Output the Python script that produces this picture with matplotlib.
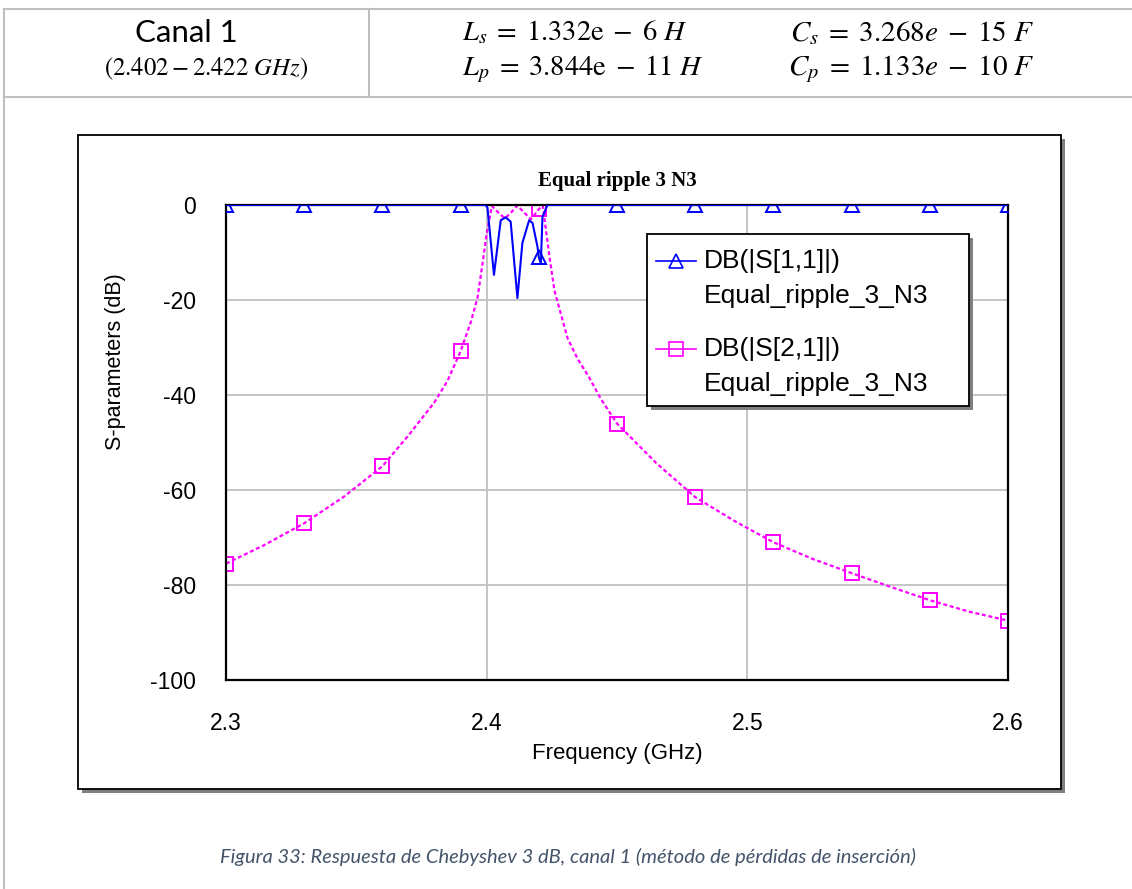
import matplotlib
matplotlib.use("Agg")
import matplotlib.pyplot as plt
from matplotlib.patches import Rectangle
from matplotlib.lines import Line2D
import numpy as np

# S21 (GHz, dB)
FREQ21 = [2.300, 2.315, 2.330, 2.345, 2.360, 2.370, 2.380, 2.385, 2.390, 2.394,
          2.3965, 2.3985, 2.400, 2.402, 2.4045, 2.407, 2.409, 2.4118, 2.414, 2.417,
          2.420, 2.4215, 2.424, 2.426, 2.4285, 2.431, 2.435, 2.439, 2.444, 2.450,
          2.465, 2.480, 2.495, 2.510, 2.525, 2.540, 2.555, 2.570, 2.585, 2.600]
S21 = [-75.5, -71.5, -67.0, -61.5, -55.0, -48.5, -41.5, -37.0, -30.8, -24.5,
       -19.5, -12.0, -6.0, -0.2, -1.6, -2.8, -1.8, -0.1, -1.4, -3.0,
       -0.9, -0.1, -10.5, -18.0, -23.0, -28.0, -32.5, -36.0, -41.0, -46.0,
       -54.3, -61.5, -66.5, -71.0, -74.5, -77.5, -80.4, -83.2, -85.6, -87.5]

# S11 (GHz, dB)
FREQ11 = [2.300, 2.330, 2.360, 2.390, 2.3995, 2.4003, 2.4028, 2.4054, 2.4073,
          2.4092, 2.4118, 2.4137, 2.4163, 2.4176, 2.4195, 2.420, 2.4208, 2.4214,
          2.4233, 2.450, 2.480, 2.510, 2.540, 2.570, 2.600]
S11 = [0, 0, 0, 0, 0, -0.5, -14.7, -3.2, -2.6,
       -3.5, -19.6, -8.0, -3.2, -3.8, -8.8, -11.0, -12.3, -2.5,
       0, 0, 0, 0, 0, 0, 0]

MARK_START, MARK_STEP = 2.30, 0.03
XTICKS = [2.3, 2.4, 2.5, 2.6]
YTICKS = [0, -20, -40, -60, -80, -100]

TITLE = "Equal ripple 3 N3"
LABELS = ["DB(|S[1,1]|)", "DB(|S[2,1]|)"]
SOURCE = "Equal_ripple_3_N3"
CAPTION = "Figura 33: Respuesta de Chebyshev 3 dB, canal 1 (método de pérdidas de inserción)"

C_S11 = "#0000FF"
C_S21 = "#FF00FF"
C_GRID = "#C0C0C0"
C_TABLE = "#BFBFBF"
C_SHADOW = "#808080"
C_CAPTION = "#44546A"

W, H = 1132, 889

plt.rcParams["font.family"] = ["Liberation Sans", "DejaVu Sans"]
plt.rcParams["mathtext.fontset"] = "stix"


def marks(freq):
    k = (np.asarray(freq) - MARK_START) / MARK_STEP
    return list(np.where(np.isclose(k, np.round(k)))[0])


def shadow_box(ax, x0, y0, x1, y1, off=4):
    ax.add_patch(Rectangle((x0 + off, y0 + off), x1 - x0, y1 - y0,
                           facecolor=C_SHADOW, edgecolor="none"))
    ax.add_patch(Rectangle((x0, y0), x1 - x0, y1 - y0,
                           facecolor="white", edgecolor="black", lw=1.3))


fig = plt.figure(figsize=(W / 100, H / 100), dpi=100)

# background layer in pixel coordinates
bg = fig.add_axes([0, 0, 1, 1], zorder=0)
bg.set_xlim(0, W)
bg.set_ylim(H, 0)
bg.axis("off")

# table header
bg.plot([4, W], [9, 9], color=C_TABLE, lw=1.5)
bg.plot([4, W], [97, 97], color=C_TABLE, lw=1.5)
bg.plot([4, 4], [9, H], color=C_TABLE, lw=1.5)
bg.plot([369, 369], [9, 97], color=C_TABLE, lw=1.5)
bg.text(186, 33, "Canal 1", fontsize=22.5, family="Lato", ha="center", va="center")
bg.text(206, 69, r"$(2.402 - 2.422\ GHz)$", fontsize=17.8, ha="center", va="center")
bg.text(462, 33, r"$L_s\;=\;1.332\mathrm{e}\;-\;6\ H$", fontsize=20.5, ha="left", va="center")
bg.text(462, 69, r"$L_p\;=\;3.844\mathrm{e}\;-\;11\ H$", fontsize=20.5, ha="left", va="center")
bg.text(1034, 33, r"$C_s\;=\;3.268e\;-\;15\ F$", fontsize=21, ha="right", va="center")
bg.text(1034, 69, r"$C_p\;=\;1.133e\;-\;10\ F$", fontsize=21, ha="right", va="center")

# chart frame
shadow_box(bg, 78, 135, 1061, 789)

bg.text(W / 2 + 2, 857, CAPTION, fontsize=14.5, family="Lato", style="italic",
        color=C_CAPTION, ha="center", va="center")

# main plot
ax = fig.add_axes([226 / W, 1 - 680 / H, 782 / W, 475 / H], zorder=1)
l11, = ax.plot(FREQ11, S11, color=C_S11, lw=1.5, marker="^", ms=10, mfc="none",
               mec=C_S11, mew=1.4, markevery=marks(FREQ11), zorder=3)
l21, = ax.plot(FREQ21, S21, color=C_S21, lw=1.6, ls=(0, (1.8, 1.2)), marker="s", ms=10,
               mfc="none", mec=C_S21, mew=1.4, markevery=marks(FREQ21), zorder=2)
for ln in (l11, l21):
    ln.set_clip_path(ax.patch)

ax.set_xlim(2.3, 2.6)
ax.set_ylim(-100, 0)
ax.set_xticks(XTICKS)
ax.set_xticklabels([f"{v:g}" for v in XTICKS])
ax.set_yticks(YTICKS)
ax.set_yticklabels([f"{v:g}" for v in YTICKS])
ax.tick_params(axis="both", length=0, labelsize=16.5)
ax.tick_params(axis="y", pad=21.5)
ax.tick_params(axis="x", pad=23)
ax.grid(True, color=C_GRID, lw=1.3)
ax.set_axisbelow(True)
for s in ax.spines.values():
    s.set_color("black")
    s.set_linewidth(1.6)

ax.set_title(TITLE, family="Liberation Serif", weight="bold", fontsize=15, pad=13.5)
ax.set_xlabel("Frequency (GHz)", fontsize=16)
ax.xaxis.set_label_coords(0.5, -0.133)
ax.set_ylabel("S-parameters (dB)", fontsize=15.5)
ax.yaxis.set_label_coords(-0.128, 0.67)

# legend layer
fg = fig.add_axes([0, 0, 1, 1], zorder=2)
fg.set_xlim(0, W)
fg.set_ylim(H, 0)
fg.axis("off")
shadow_box(fg, 647, 234, 969, 406)
rows = [(261, C_S11, "^"), (349, C_S21, "s")]
for (y, c, m), lab in zip(rows, LABELS):
    fg.add_line(Line2D([656, 696], [y, y], color=c, lw=1.2))
    fg.add_line(Line2D([676], [y], color=c, marker=m, ms=10, mfc="none", mew=1.2))
    fg.text(704, y, lab, fontsize=19, ha="left", va="center")
    fg.text(704, y + 35, SOURCE, fontsize=19, ha="left", va="center")

fig.savefig("out.png", dpi=100, facecolor="white")
